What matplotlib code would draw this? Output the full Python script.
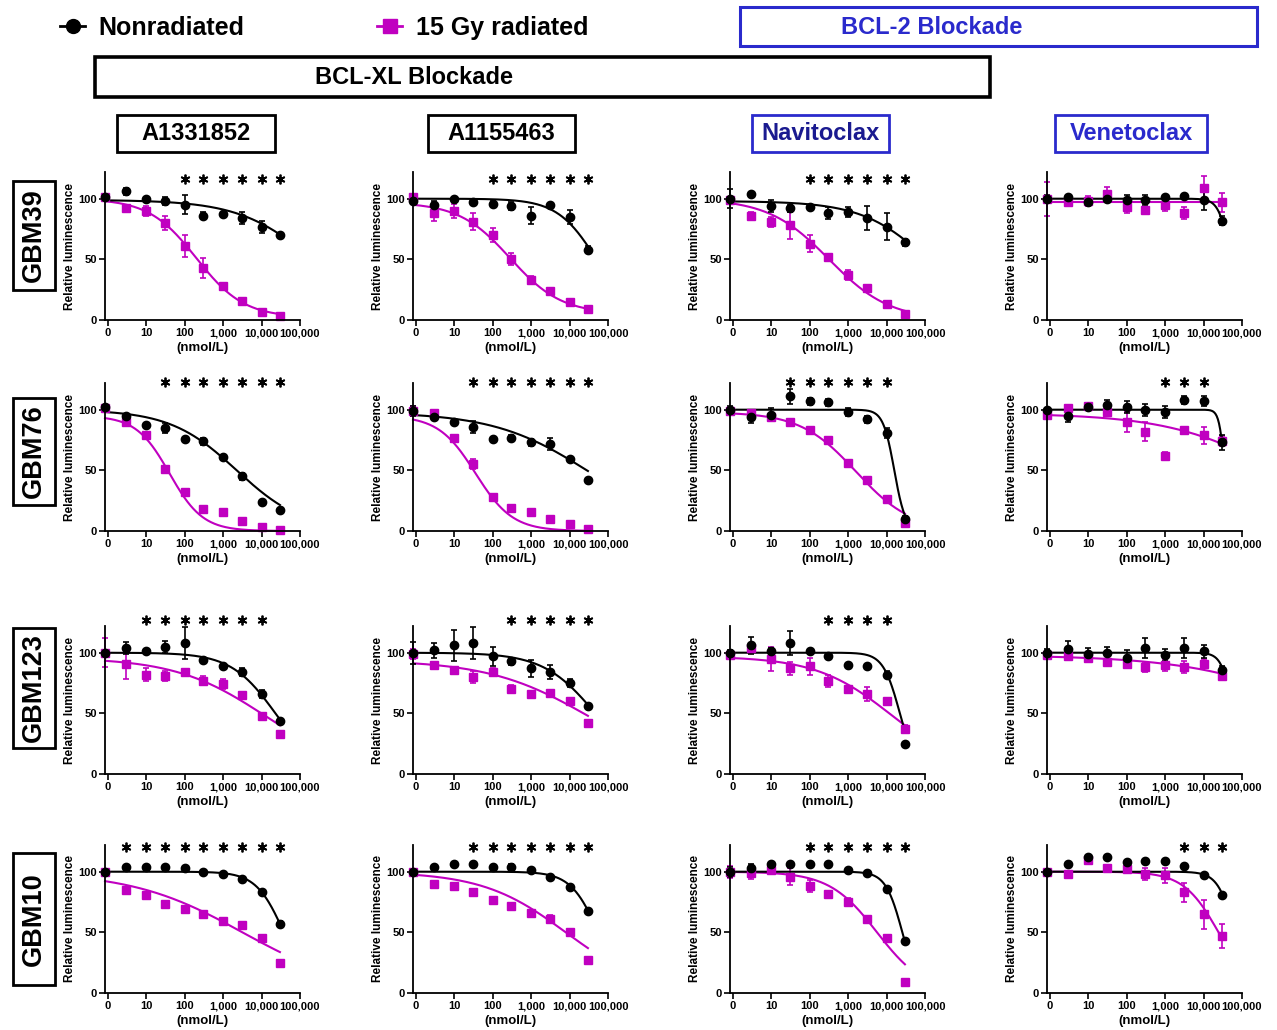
import numpy as np
import matplotlib
matplotlib.use('Agg')
import matplotlib.pyplot as plt
from matplotlib.patches import Rectangle
from matplotlib.lines import Line2D

plt.rcParams['font.family'] = ['Liberation Sans', 'DejaVu Sans']
plt.rcParams['font.weight'] = 'bold'

# concentrations in nmol/L (0 = vehicle, drawn on the y axis)
conc = [0, 3, 10, 30, 100, 300, 1000, 3000, 10000, 30000]
cell_lines = ['GBM39', 'GBM76', 'GBM123', 'GBM10']
drugs = ['A1331852', 'A1155463', 'Navitoclax', 'Venetoclax']

# each panel: mean / SEM for nonradiated (nr) and 15 Gy (rad),
# fit = (top, bottom, logIC50, hill slope) of the 4PL curves, stars = significant doses
# ---- GBM39
gbm39_a1331852 = dict(
    nr=[101, 106, 100, 98, 95, 86, 87, 84, 77, 70], nr_err=[3, 3, 1, 3, 8, 3, 2, 5, 5, 1],
    rad=[101, 92, 90, 80, 61, 43, 28, 16, 7, 3], rad_err=[3, 2, 4, 6, 9, 8, 2, 1, 1, 1],
    nr_fit=(99, 0, 5.35, 0.45), rad_fit=(100, 2, 2.3, 0.7),
    stars=[100, 300, 1000, 3000, 10000, 30000])
gbm39_a1155463 = dict(
    nr=[98, 95, 100, 97, 96, 94, 86, 95, 85, 58], nr_err=[2, 3, 1, 2, 3, 3, 7, 1, 6, 3],
    rad=[101, 88, 90, 81, 70, 50, 33, 24, 15, 9], rad_err=[3, 6, 6, 7, 6, 5, 3, 2, 1, 1],
    nr_fit=(100, 0, 4.7, 0.85), rad_fit=(97, 5, 2.45, 0.65),
    stars=[100, 300, 1000, 3000, 10000, 30000])
gbm39_navitoclax = dict(
    nr=[100, 104, 94, 92, 93, 88, 89, 84, 77, 64], nr_err=[8, 1, 5, 3, 1, 5, 4, 10, 11, 3],
    rad=[99, 86, 81, 78, 63, 52, 37, 26, 13, 5], rad_err=[2, 3, 4, 11, 7, 2, 4, 3, 2, 1],
    nr_fit=(98, 0, 5.1, 0.5), rad_fit=(100, 0, 2.5, 0.55),
    stars=[100, 300, 1000, 3000, 10000, 30000])
gbm39_venetoclax = dict(
    nr=[100, 101, 97, 100, 99, 99, 101, 102, 99, 82], nr_err=[3, 1, 2, 3, 4, 4, 1, 1, 8, 4],
    rad=[100, 97, 98, 104, 93, 91, 95, 88, 109, 97], rad_err=[14, 3, 4, 6, 5, 1, 5, 5, 10, 8],
    nr_fit=(100, 0, 4.7, 3), rad_fit=(97, 97, 3, 1),
    stars=[])
# ---- GBM76
gbm76_a1331852 = dict(
    nr=[102, 95, 87, 85, 76, 74, 61, 45, 24, 17], nr_err=[2, 1, 1, 4, 1, 3, 1, 3, 1, 1],
    rad=[101, 90, 79, 51, 32, 18, 16, 8, 3, 1], rad_err=[2, 1, 2, 1, 3, 1, 1, 1, 1, 1],
    nr_fit=(100, 0, 3.35, 0.5), rad_fit=(95, 0, 1.6, 1.0),
    stars=[30, 100, 300, 1000, 3000, 10000, 30000])
gbm76_a1155463 = dict(
    nr=[99, 94, 90, 86, 76, 77, 73, 72, 59, 42], nr_err=[4, 2, 1, 5, 1, 2, 3, 5, 1, 2],
    rad=[99, 97, 77, 55, 28, 19, 16, 10, 6, 2], rad_err=[4, 3, 1, 4, 1, 1, 1, 1, 1, 1],
    nr_fit=(98, 0, 4.5, 0.35), rad_fit=(95, 0, 1.55, 0.9),
    stars=[30, 100, 300, 1000, 3000, 10000, 30000])
gbm76_navitoclax = dict(
    nr=[100, 94, 96, 111, 107, 106, 98, 92, 81, 10], nr_err=[3, 5, 5, 6, 3, 3, 3, 3, 4, 2],
    rad=[99, 97, 94, 90, 83, 75, 56, 42, 26, 7], rad_err=[2, 2, 2, 1, 1, 1, 2, 2, 1, 1],
    nr_fit=(100, 0, 4.2, 3), rad_fit=(98, 0, 3.2, 0.6),
    stars=[30, 100, 300, 1000, 3000, 10000])
gbm76_venetoclax = dict(
    nr=[100, 95, 102, 104, 102, 100, 98, 108, 107, 73], nr_err=[1, 5, 2, 4, 5, 5, 5, 3, 4, 6],
    rad=[96, 101, 103, 98, 90, 82, 62, 83, 79, 74], rad_err=[2, 2, 2, 3, 8, 8, 3, 2, 7, 4],
    nr_fit=(100, 0, 4.55, 6), rad_fit=(97, 0, 6, 0.3),
    stars=[1000, 3000, 10000])
# ---- GBM123
gbm123_a1331852 = dict(
    nr=[100, 104, 101, 105, 108, 94, 89, 84, 66, 44], nr_err=[2, 5, 2, 5, 13, 1, 1, 3, 3, 1],
    rad=[100, 91, 82, 81, 84, 77, 74, 65, 48, 33], rad_err=[12, 13, 5, 4, 1, 4, 4, 3, 1, 1],
    nr_fit=(100, 0, 4.36, 0.75), rad_fit=(96, 0, 4.09, 0.37),
    stars=[10, 30, 100, 300, 1000, 3000, 10000])
gbm123_a1155463 = dict(
    nr=[100, 102, 106, 108, 97, 93, 87, 84, 75, 56], nr_err=[9, 6, 13, 13, 8, 3, 7, 6, 3, 2],
    rad=[99, 90, 86, 80, 84, 70, 66, 67, 60, 42], rad_err=[4, 2, 1, 5, 3, 3, 2, 1, 3, 1],
    nr_fit=(100, 0, 4.67, 0.64), rad_fit=(94, 0, 4.53, 0.33),
    stars=[300, 1000, 3000, 10000, 30000])
gbm123_navitoclax = dict(
    nr=[100, 106, 101, 108, 101, 97, 90, 89, 82, 25], nr_err=[2, 7, 3, 10, 1, 1, 1, 1, 3, 1],
    rad=[98, 104, 95, 87, 89, 77, 70, 66, 60, 37], rad_err=[3, 4, 10, 5, 7, 5, 1, 6, 1, 3],
    nr_fit=(100, 0, 4.345, 2), rad_fit=(97, 0, 4.13, 0.44),
    stars=[300, 1000, 3000, 10000])
gbm123_venetoclax = dict(
    nr=[100, 103, 99, 100, 96, 104, 98, 104, 101, 86], nr_err=[3, 7, 5, 5, 6, 8, 5, 8, 5, 3],
    rad=[98, 97, 96, 92, 91, 88, 90, 88, 91, 81], rad_err=[3, 2, 3, 3, 2, 4, 5, 5, 4, 2],
    nr_fit=(100, 0, 4.77, 3), rad_fit=(98, 0, 7.4, 0.25),
    stars=[])
# ---- GBM10
gbm10_a1331852 = dict(
    nr=[100, 104, 104, 104, 103, 100, 98, 94, 83, 57], nr_err=[1, 1, 1, 1, 1, 1, 1, 1, 1, 2],
    rad=[100, 85, 81, 73, 69, 65, 59, 56, 45, 25], rad_err=[1, 2, 1, 1, 2, 2, 1, 1, 3, 1],
    nr_fit=(100, 0, 4.58, 1.2), rad_fit=(100, 0, 3.5, 0.3),
    stars=[3, 10, 30, 100, 300, 1000, 3000, 10000, 30000])
gbm10_a1155463 = dict(
    nr=[100, 104, 106, 106, 104, 104, 101, 96, 87, 68], nr_err=[1, 1, 1, 1, 1, 2, 2, 1, 1, 1],
    rad=[100, 90, 88, 83, 77, 72, 66, 61, 50, 27], rad_err=[1, 1, 1, 1, 1, 1, 2, 3, 1, 1],
    nr_fit=(100, 0, 4.75, 1.2), rad_fit=(100, 0, 3.9, 0.4),
    stars=[30, 100, 300, 1000, 3000, 10000, 30000])
gbm10_navitoclax = dict(
    nr=[100, 103, 106, 106, 106, 106, 101, 99, 86, 43], nr_err=[4, 3, 1, 1, 1, 1, 2, 1, 1, 1],
    rad=[100, 99, 101, 96, 88, 82, 75, 61, 45, 9], rad_err=[5, 5, 3, 7, 5, 1, 3, 1, 1, 1],
    nr_fit=(100, 0, 4.41, 2), rad_fit=(100, 0, 3.75, 0.7),
    stars=[100, 300, 1000, 3000, 10000, 30000])
gbm10_venetoclax = dict(
    nr=[100, 106, 112, 112, 108, 109, 109, 105, 97, 81], nr_err=[1, 1, 1, 1, 1, 1, 1, 1, 1, 1],
    rad=[100, 98, 110, 103, 102, 98, 97, 83, 65, 47], rad_err=[1, 1, 1, 1, 3, 5, 6, 8, 12, 10],
    nr_fit=(100, 0, 4.81, 2), rad_fit=(100, 0, 4.39, 0.95),
    stars=[3000, 10000, 30000])

panels = [
    [gbm39_a1331852, gbm39_a1155463, gbm39_navitoclax, gbm39_venetoclax],
    [gbm76_a1331852, gbm76_a1155463, gbm76_navitoclax, gbm76_venetoclax],
    [gbm123_a1331852, gbm123_a1155463, gbm123_navitoclax, gbm123_venetoclax],
    [gbm10_a1331852, gbm10_a1155463, gbm10_navitoclax, gbm10_venetoclax],
]
star_heights = [116, 123, 127, 120]

MAG = '#C000C0'
BLUE = '#2A2ACC'
X0 = 10 ** -0.08   # where the "0" dose sits (on the y axis)

W, H = 1277, 1030
fig = plt.figure(figsize=(W / 100, H / 100), dpi=100)


def fx(px):
    return px / W


def fy(py):
    return 1 - py / H


def hill(logx, top, bottom, logc, h):
    return bottom + (top - bottom) / (1 + 10 ** ((logx - logc) * h))


def draw_panel(ax, p, star_y):
    xs = [X0 if c == 0 else c for c in conc]
    xfit = np.logspace(np.log10(X0), np.log10(conc[-1]), 300)
    for key, color, marker, ms in [('rad', MAG, 's', 5.5), ('nr', 'black', 'o', 6)]:
        ax.plot(xfit, hill(np.log10(xfit), *p[key + '_fit']), color=color, lw=1.5, clip_on=False)
        eb = ax.errorbar(xs, p[key], yerr=p[key + '_err'], fmt=marker, color=color, ms=ms,
                         capsize=2.5, elinewidth=1.2, capthick=1.2)
        for art in [eb[0], *eb[1], *eb[2]]:
            art.set_clip_on(False)
    if p['stars']:
        ax.plot(p['stars'], [star_y] * len(p['stars']), ls='none', marker=(6, 2, 0),
                ms=7, mew=1.3, color='black', clip_on=False)

    ax.set_xscale('log')
    ax.set_xlim(X0, 1e5)
    ax.set_ylim(0, 122)
    ax.set_xticks([1, 10, 100, 1e3, 1e4, 1e5])
    ax.set_xticklabels(['0', '10', '100', '1,000', '10,000', '100,000'])
    ax.set_yticks([0, 50, 100])
    ax.spines['top'].set_visible(False)
    ax.spines['right'].set_visible(False)
    ax.spines['left'].set_linewidth(1.3)
    ax.spines['bottom'].set_linewidth(1.3)
    ax.tick_params(axis='both', which='major', labelsize=8, width=1.2, length=4, pad=2)
    ax.tick_params(axis='x', which='minor', width=1.0, length=2.5)
    ax.set_ylabel('Relative luminescence', fontsize=8.5, fontweight='bold')
    ax.yaxis.set_label_coords(-0.15, 0.5)
    ax.set_xlabel('(nmol/L)', fontsize=9.5, fontweight='bold')
    ax.xaxis.set_label_coords(0.5, -0.15)


col_left = [105, 413, 730, 1047]
row_zero = [320, 531, 774, 993]
ax_w, ax_h = 195, 148
for r in range(4):
    for c in range(4):
        ax = fig.add_axes([fx(col_left[c]), fy(row_zero[r]), ax_w / W, ax_h / H])
        draw_panel(ax, panels[r][c], star_heights[r])


def box(x0, y0, x1, y1, color='black', lw=2.0):
    fig.add_artist(Rectangle((fx(x0), fy(y1)), (x1 - x0) / W, (y1 - y0) / H,
                             transform=fig.transFigure, fill=False, edgecolor=color, lw=lw))


# group headers
box(740, 7, 1257, 46, BLUE, 2.2)
fig.text(fx(932), fy(27), 'BCL-2 Blockade', color=BLUE, fontsize=17, ha='center', va='center')
box(95, 57, 990, 97, 'black', 2.6)
fig.text(fx(414), fy(78), 'BCL-XL Blockade', fontsize=17, ha='center', va='center')

# drug headers
drug_boxes = [(117, 275), (428, 575), (752, 889), (1055, 1207)]
drug_colors = ['black', 'black', '#1A1A90', BLUE]
box_colors = ['black', 'black', BLUE, BLUE]
for (x0, x1), name, tc, bc in zip(drug_boxes, drugs, drug_colors, box_colors):
    box(x0, 115, x1, 152, bc, 2.0)
    fig.text(fx((x0 + x1) / 2), fy(134), name, color=tc, fontsize=17, ha='center', va='center')

# cell line labels
row_boxes = [(181, 290), (398, 505), (628, 748), (853, 985)]
for (y0, y1), name in zip(row_boxes, cell_lines):
    box(13, y0, 55, y1, 'black', 2.0)
    fig.text(fx(34), fy((y0 + y1) / 2), name, fontsize=19.5, rotation=90, ha='center', va='center')

# legend
handles = [Line2D([], [], color='black', marker='o', ms=10, lw=2),
           Line2D([], [], color=MAG, marker='s', ms=9.5, lw=2)]
fig.legend(handles, ['Nonradiated', '15 Gy radiated'], ncol=2, frameon=False,
           loc='center left', bbox_to_anchor=(fx(60), fy(28)), borderpad=0, borderaxespad=0,
           fontsize=18, handlelength=1.0, handletextpad=0.55, columnspacing=5.3)

fig.savefig('out.png', dpi=100)
